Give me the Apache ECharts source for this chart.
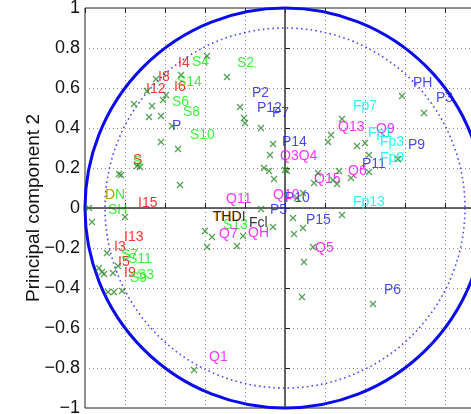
<!DOCTYPE html>
<html>
<head>
<meta charset="utf-8">
<script src="https://cdn.jsdelivr.net/npm/echarts@6/dist/echarts.min.js"></script>
<style>
  html, body { margin: 0; padding: 0; background: #fff; }
  #chart { width: 471px; height: 414px; }
</style>
</head>
<body>
<div id="chart"></div>
<script>
// loading vectors (green crosses), [pc1, pc2]
const markerPoints = [
  [-0.39, 0.76], [-0.29, 0.655], [-0.52, 0.665], [-0.645, 0.645], [-0.69, 0.585],
  [-0.595, 0.565], [-0.61, 0.54], [-0.755, 0.52], [-0.665, 0.51], [-0.68, 0.455],
  [-0.62, 0.46], [-0.225, 0.505], [-0.205, 0.45], [-0.2, 0.425], [-0.12, 0.4],
  [-0.565, 0.41], [-0.62, 0.33], [-0.535, 0.295], [-0.06, 0.32], [-0.075, 0.265],
  [-0.105, 0.2], [-0.08, 0.185], [0, 0.19], [0.01, 0.185], [-0.055, 0.145],
  [-0.12, -0.005], [0.06, 0.05], [0.09, 0.075], [-0.4, -0.115], [-0.365, -0.145],
  [-0.21, -0.14], [-0.24, -0.19], [-0.39, -0.195], [0.045, -0.13], [0.04, -0.05],
  [-0.06, -0.095], [0.09, -0.1], [0.285, -0.035], [0.14, -0.195], [0.095, -0.27],
  [0.085, -0.445], [0.44, -0.48], [0.585, 0.56], [0.695, 0.475], [0.285, 0.445],
  [0.23, 0.365], [0.215, 0.33], [0.36, 0.31], [0.4, 0.325], [0.42, 0.265],
  [0.565, 0.245], [0.165, 0.175], [0.145, 0.125], [0.27, 0.185], [0.33, 0.15],
  [0.42, 0.18], [0.24, 0.14], [0.26, 0.12], [-0.74, 0.21], [-0.725, 0.205],
  [-0.83, 0.17], [-0.82, 0.165], [-0.525, 0.115], [-0.98, 0], [-0.8, -0.045],
  [-0.965, -0.07], [-0.89, -0.225], [-0.93, -0.3], [-0.915, -0.32], [-0.905, -0.33],
  [-0.86, -0.325], [-0.835, -0.29], [-0.885, -0.42], [-0.855, -0.42], [-0.815, -0.415],
  [-0.455, -0.81]
];

// variable labels by group: [name, pc1, pc2]
const iLabels = [
  ['I4', -0.535, 0.725], ['I8', -0.635, 0.655], ['I12', -0.695, 0.595], ['I6', -0.555, 0.605],
  ['I15', -0.735, 0.025], ['I13', -0.805, -0.145], ['I3', -0.855, -0.195], ['I5', -0.835, -0.27],
  ['I9', -0.805, -0.325], ['S', -0.76, 0.24]
];
const sLabels = [
  ['S4', -0.465, 0.73], ['S2', -0.24, 0.725], ['S14', -0.54, 0.63], ['S6', -0.565, 0.53],
  ['S8', -0.51, 0.48], ['S10', -0.475, 0.365], ['S', -0.76, 0.23], ['SH', -0.885, -0.01],
  ['DN', -0.9, 0.065], ['S13', -0.31, -0.085], ['S7', -0.82, -0.235], ['S11', -0.785, -0.255],
  ['S3', -0.74, -0.335], ['S9', -0.775, -0.35]
];
const oLabels = [['D', -0.9, 0.065], ['THD', -0.365, -0.045]];
const pLabels = [
  ['P2', -0.165, 0.575], ['P12', -0.14, 0.5], ['P7', -0.065, 0.475], ['P', -0.565, 0.41],
  ['P14', -0.015, 0.33], ['P10', 0, 0.05], ['P5', -0.075, -0.01], ['P15', 0.105, -0.06],
  ['P11', 0.385, 0.22], ['P9', 0.615, 0.315], ['PH', 0.64, 0.625], ['P3', 0.755, 0.55],
  ['P6', 0.495, -0.41]
];
const qLabels = [
  ['Q13', 0.265, 0.405], ['Q9', 0.455, 0.395], ['Q3Q4', -0.025, 0.26], ['Q6', 0.315, 0.185],
  ['Q15', 0.145, 0.145], ['Q10', -0.06, 0.065], ['Q11', -0.295, 0.045], ['Q7', -0.33, -0.13],
  ['QH', -0.185, -0.125], ['Q5', 0.15, -0.2], ['Q1', -0.38, -0.745]
];
const fpLabels = [
  ['Fp7', 0.34, 0.51], ['Fp1', 0.415, 0.375], ['Fp3', 0.475, 0.33], ['Fp9', 0.475, 0.25],
  ['Fp13', 0.34, 0.03]
];
const kLabels = [['THDI', -0.36, -0.045], ['Fcl', -0.18, -0.075]];

// reference circles: [cx, cy, radius]
const circles = [[0, 0, 1], [0, 0, 0.9]];

const axisMin = -1;
const axisMax = 1;
const tickStep = 0.2;
const yName = 'Principal component 2';

const FONT = '"Liberation Sans", Arial, Helvetica, sans-serif';

function labelSeries(list, color, z) {
  return {
    type: 'scatter',
    symbolSize: 0,
    silent: true,
    z: z,
    label: {
      show: true,
      position: 'right',
      distance: 0,
      formatter: (p) => p.name,
      color: color,
      fontSize: 14,
      fontFamily: FONT
    },
    data: list.map((d) => ({ name: d[0], value: [d[1], d[2]] }))
  };
}

function circleSeries(idx, style) {
  return {
    type: 'custom',
    silent: true,
    z: 1,
    data: [circles[idx]],
    renderItem: (params, api) => {
      const c = api.coord([api.value(0), api.value(1)]);
      const r = api.size([api.value(2), 0])[0];
      return {
        type: 'circle',
        shape: { cx: c[0], cy: c[1], r: r },
        style: Object.assign({ fill: 'none' }, style)
      };
    }
  };
}

const chart = echarts.init(document.getElementById('chart'));

const splitStyle = { show: true, lineStyle: { color: '#8a8a8a', type: [1, 3], width: 1 } };

chart.setOption({
  animation: false,
  grid: {
    left: 85, right: -14, top: 8, bottom: 6,
    containLabel: false, outerBoundsMode: 'none',
    show: true, borderColor: '#222', borderWidth: 1
  },
  xAxis: [
    {
      type: 'value', min: axisMin, max: axisMax, interval: tickStep,
      axisLine: { show: false },
      axisTick: { show: true, inside: true, length: 5, lineStyle: { color: '#222' } },
      axisLabel: { show: false },
      splitLine: splitStyle
    },
    {
      type: 'value', position: 'top', min: axisMin, max: axisMax, interval: tickStep,
      axisLine: { show: false },
      axisTick: { show: true, inside: true, length: 5, lineStyle: { color: '#222' } },
      axisLabel: { show: false },
      splitLine: { show: false }
    }
  ],
  yAxis: {
    type: 'value', min: axisMin, max: axisMax, interval: tickStep,
    name: yName,
    nameLocation: 'middle',
    nameRotate: 90,
    nameGap: 42,
    nameMoveOverlap: false,
    nameTextStyle: { fontSize: 19, fontFamily: FONT, color: '#111' },
    axisLine: { show: false },
    axisTick: { show: true, inside: true, length: 5, lineStyle: { color: '#222' } },
    axisLabel: {
      fontSize: 18, fontFamily: FONT, color: '#111', margin: 5,
      formatter: (v) => String(+v.toFixed(1)).replace('-', '\u2212')
    },
    splitLine: splitStyle
  },
  series: [
    circleSeries(0, { stroke: '#0a0aee', lineWidth: 3 }),
    circleSeries(1, { stroke: '#4a4aff', lineWidth: 1.6, lineDash: [1.6, 3.2] }),
    labelSeries(iLabels, '#ff0000', 3),
    labelSeries(sLabels, '#11ee11', 4),
    labelSeries(oLabels, '#ff8800', 5),
    labelSeries(pLabels, '#1818f0', 5),
    labelSeries(qLabels, '#ff00ff', 5),
    labelSeries(fpLabels, '#00f0f0', 6),
    labelSeries(kLabels, '#000000', 6),
    {
      type: 'scatter',
      silent: true,
      z: 8,
      symbol: 'path://M0,0L10,10M10,0L0,10',
      symbolSize: 6,
      itemStyle: { color: 'none', borderColor: '#2a8a2a', borderWidth: 1.3 },
      data: markerPoints,
      markLine: {
        silent: true,
        symbol: 'none',
        label: { show: false },
        lineStyle: { color: '#333', width: 1.5, type: 'solid' },
        data: [{ xAxis: 0 }, { yAxis: 0 }]
      }
    }
  ]
});
</script>
</body>
</html>
